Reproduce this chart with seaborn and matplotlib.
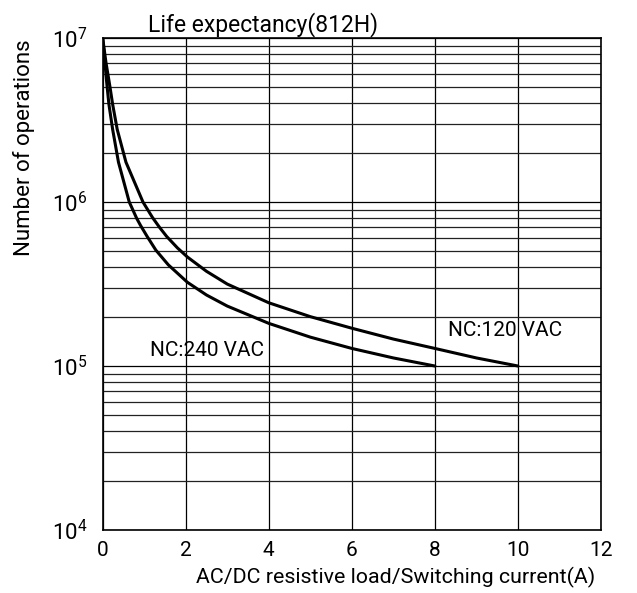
import numpy as np
import pandas as pd
import matplotlib
matplotlib.use("Agg")
import matplotlib.pyplot as plt
import seaborn as sns
from matplotlib.ticker import LogLocator, FixedLocator

# 120 VAC 곡선 (전류 A, 동작 횟수)
current_120 = [0, 0.08, 0.13, 0.18, 0.24, 0.35, 0.56, 0.97, 1.20, 1.37, 1.54,
               1.80, 2.04, 2.5, 3, 4, 5, 6, 7, 8, 9, 10]
ops_120 = [1.0e7, 7.06e6, 5.93e6, 4.95e6, 3.94e6, 2.77e6, 1.75e6, 1.0e6, 8.04e5,
           7.0e5, 6.17e5, 5.25e5, 4.62e5, 3.78e5, 3.16e5, 2.43e5, 2.0e5,
           1.70e5, 1.46e5, 1.28e5, 1.12e5, 1.0e5]

# 240 VAC 곡선
current_240 = [0, 0.055, 0.08, 0.11, 0.15, 0.24, 0.38, 0.64, 0.82, 0.91, 1.07,
               1.28, 1.58, 2.04, 2.5, 3, 4, 5, 6, 7, 8]
ops_240 = [1.0e7, 7.06e6, 5.93e6, 4.95e6, 3.94e6, 2.77e6, 1.75e6, 1.0e6, 7.94e5,
           7.21e5, 6.17e5, 5.09e5, 4.14e5, 3.24e5, 2.71e5, 2.32e5, 1.82e5,
           1.50e5, 1.28e5, 1.12e5, 1.0e5]

x_ticks = [0, 2, 4, 6, 8, 10, 12]

df = pd.concat([
    pd.DataFrame({"current": current_120, "ops": ops_120, "curve": "NC:120 VAC"}),
    pd.DataFrame({"current": current_240, "ops": ops_240, "curve": "NC:240 VAC"}),
])

sns.set_style("white")
plt.rcParams["font.family"] = ["Roboto", "DejaVu Sans"]
plt.rcParams["text.color"] = "black"
plt.rcParams["axes.labelcolor"] = "black"
plt.rcParams["xtick.color"] = "black"
plt.rcParams["ytick.color"] = "black"

fig = plt.figure(figsize=(6.37, 5.93), dpi=100)
ax = fig.add_axes([0.1612, 0.1062, 0.9435 - 0.1612, 0.9359 - 0.1062])

ax.set_yscale("log")
ax.set_xlim(0, 12)
ax.set_ylim(1e4, 1e7)

# 격자
ax.xaxis.set_major_locator(FixedLocator(x_ticks))
ax.yaxis.set_major_locator(LogLocator(base=10, numticks=10))
ax.yaxis.set_minor_locator(LogLocator(base=10, subs=np.arange(2, 10), numticks=20))
ax.grid(True, which="major", axis="both", color="black", linewidth=0.9)
ax.grid(True, which="minor", axis="y", color="#222222", linewidth=0.9)
ax.tick_params(which="both", length=0)
ax.tick_params(axis="x", pad=8, labelsize=15)
ax.tick_params(axis="y", pad=11, labelsize=16)

sns.lineplot(data=df, x="current", y="ops", hue="curve", units="curve",
             estimator=None, palette=["black", "black"], linewidth=2.2,
             legend=False, ax=ax, sort=False)

for s in ax.spines.values():
    s.set_color("black")
    s.set_linewidth(1.2)

ax.text(1.14, 1.15e5, "NC:240 VAC", fontsize=15, va="baseline", ha="left")
ax.text(8.32, 1.52e5, "NC:120 VAC", fontsize=15, va="baseline", ha="left")

ax.set_xlabel("")
ax.set_ylabel("")
fig.text(396 / 637, 1 - 577 / 593, "AC/DC resistive load/Switching current(A)",
         fontsize=15.4, ha="center", va="center")
fig.text(24 / 637, 1 - 148 / 593, "Number of operations", fontsize=16,
         rotation=90, ha="center", va="center")
fig.text(148 / 637, 1 - 31 / 593, "Life expectancy(812H)", fontsize=16.5,
         ha="left", va="baseline")

fig.savefig("out.png", dpi=100)
